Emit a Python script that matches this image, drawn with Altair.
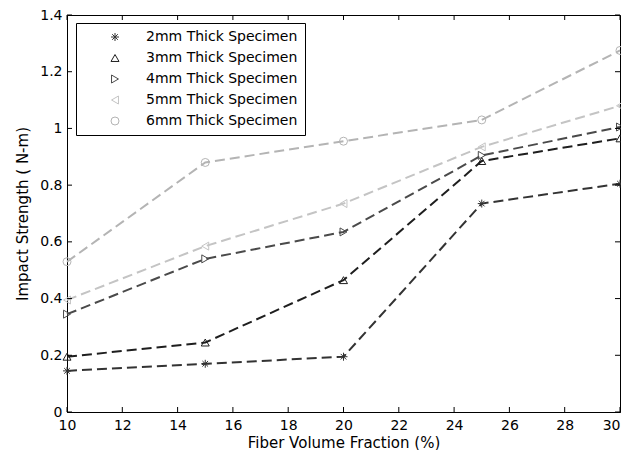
import altair as alt
import pandas as pd

fractions = [10, 15, 20, 25, 30]
series_names = ["2mm Thick Specimen", "3mm Thick Specimen", "4mm Thick Specimen",
                "5mm Thick Specimen", "6mm Thick Specimen"]
s2 = [0.145, 0.170, 0.195, 0.735, 0.805]
s3 = [0.195, 0.245, 0.465, 0.885, 0.965]
s4 = [0.345, 0.540, 0.635, 0.905, 1.005]
s5 = [0.395, 0.585, 0.735, 0.935, 1.080]
s6 = [0.530, 0.880, 0.955, 1.030, 1.275]
x_ticks = [10, 12, 14, 16, 18, 20, 22, 24, 26, 28, 30]
y_ticks = [0, 0.2, 0.4, 0.6, 0.8, 1.0, 1.2, 1.4]

line_colors = ["#333333", "#1e1e1e", "#4a4a4a", "#c4c4c4", "#b4b4b4"]
asterisk = "M-1,0L1,0M0,-1L0,1M-0.7,-0.7L0.7,0.7M-0.7,0.7L0.7,-0.7"
shapes = [asterisk, "triangle-up", "triangle-right", "triangle-left", "circle"]

rows = []
for name, vals in zip(series_names, [s2, s3, s4, s5, s6]):
    for f, v in zip(fractions, vals):
        rows.append({"x": f, "y": v, "s": name})
df = pd.DataFrame(rows)

W, H = 553, 397
FONT = "DejaVu Sans"

xs = alt.Scale(domain=[10, 30], nice=False, zero=False)
ys = alt.Scale(domain=[0, 1.4], nice=False)
cs = alt.Scale(domain=series_names, range=line_colors)

X = alt.X("x:Q", scale=xs, title="Fiber Volume Fraction (%)",
          axis=alt.Axis(values=x_ticks, ticks=False, grid=False, labelPadding=6,
                        titlePadding=3, domainColor="black",
                        labelAlign={"expr": "datum.value == 30 ? 'right' : 'center'"}))
Y = alt.Y("y:Q", scale=ys, title="Impact Strength ( N-m)",
          axis=alt.Axis(values=y_ticks, format="~g", ticks=False, grid=False,
                        labelPadding=5, titlePadding=9, domainColor="black"))

leg = alt.Legend(title=None, orient="none", legendX=9, legendY=8,
                 strokeColor="black", fillColor="white",
                 padding=7, symbolOffset=25, labelOffset=24,
                 rowPadding=7, labelFont=FONT, labelFontSize=14,
                 labelColor="black", symbolSize=64, symbolStrokeWidth=1,
                 symbolFillColor="transparent", symbolType="circle")

lines = alt.Chart(df).mark_line(strokeDash=[10, 5], strokeWidth=2).encode(
    x=X, y=Y,
    color=alt.Color("s:N", scale=cs, legend=leg),
    detail="s:N",
)

points = alt.Chart(df).mark_point(filled=False, size=64, strokeWidth=1, opacity=1).encode(
    x=alt.X("x:Q", scale=xs),
    y=alt.Y("y:Q", scale=ys),
    color=alt.Color("s:N", scale=cs, legend=leg),
    shape=alt.Shape("s:N", scale=alt.Scale(domain=series_names, range=shapes), legend=leg),
)

xt = pd.DataFrame({"t": x_ticks})
yt = pd.DataFrame({"t": y_ticks})
tick_bot = alt.Chart(xt).mark_rule(color="black").encode(
    x=alt.X("t:Q", scale=xs), y=alt.value(H), y2=alt.value(H - 5))
tick_top = alt.Chart(xt).mark_rule(color="black").encode(
    x=alt.X("t:Q", scale=xs), y=alt.value(0), y2=alt.value(5))
tick_left = alt.Chart(yt).mark_rule(color="black").encode(
    y=alt.Y("t:Q", scale=ys), x=alt.value(0), x2=alt.value(5))
tick_right = alt.Chart(yt).mark_rule(color="black").encode(
    y=alt.Y("t:Q", scale=ys), x=alt.value(W), x2=alt.value(W - 5))

chart = alt.layer(lines, points, tick_bot, tick_top, tick_left, tick_right).properties(
    width=W, height=H,
    background="white",
    autosize=alt.AutoSizeParams(type="none"),
    padding={"left": 59, "top": 7, "right": 1, "bottom": 38},
).configure_view(stroke="black", strokeWidth=1).configure_axis(
    labelFont=FONT, titleFont=FONT, labelFontSize=14, titleFontSize=15,
    labelColor="black", titleColor="black", titleFontWeight="normal",
)

chart.save("out.html", embed_options={"renderer": "svg", "actions": False})
